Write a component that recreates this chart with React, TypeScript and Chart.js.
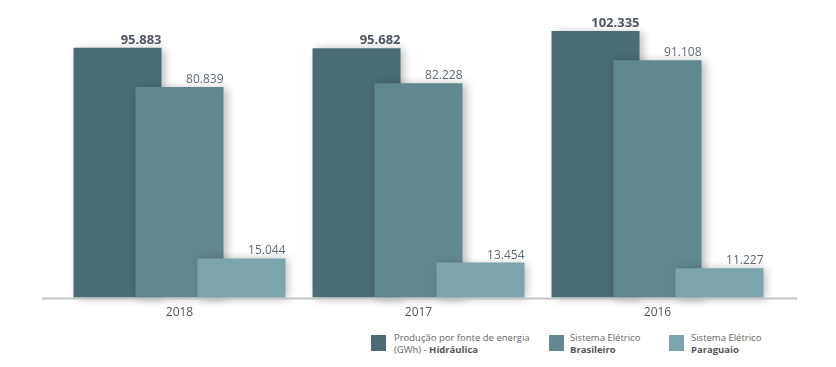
import React, { useEffect, useRef } from "react";
import { Chart, registerables } from "chart.js";

Chart.register(...registerables);

const categories = ["2018", "2017", "2016"];
const hidraulica = [95.883, 95.682, 102.335];
const brasileiro = [80.839, 82.228, 91.108];
const paraguaio = [15.044, 13.454, 11.227];
const seriesColors = ["#4b6c74", "#62888f", "#7ba5ab"];

const fmt = (v: number) => v.toFixed(3);

export default function App() {
  const ref = useRef<HTMLCanvasElement | null>(null);
  useEffect(() => {
    document.body.style.margin = "0";
    const drawPlugin = {
      id: "orderedDraw",
      beforeDatasetsDraw(chart: any) {
        const ctx = chart.ctx;
        ctx.save();
        ctx.shadowColor = "rgba(0,0,0,0.28)";
        ctx.shadowBlur = 9;
        ctx.shadowOffsetX = 3;
        ctx.shadowOffsetY = 1;
        for (let i = 0; i < chart.data.datasets.length; i++) {
          chart.getDatasetMeta(i).controller.draw();
        }
        ctx.restore();
        return false;
      },
      afterDraw(chart: any) {
        const ctx = chart.ctx;
        const y = chart.scales.y.getPixelForValue(0);
        ctx.save();
        ctx.strokeStyle = "#c4c4c4";
        ctx.lineWidth = 2;
        ctx.beginPath();
        ctx.moveTo(42, y + 1);
        ctx.lineTo(797, y + 1);
        ctx.stroke();
        chart.data.datasets.forEach((ds: any, di: number) => {
          const meta = chart.getDatasetMeta(di);
          meta.data.forEach((bar: any, i: number) => {
            const right = bar.x + bar.width / 2;
            ctx.font = di === 0 ? "bold 13px 'Open Sans', sans-serif" : "12px 'Open Sans', sans-serif";
            ctx.fillStyle = di === 0 ? "#4d5560" : "#5f6a75";
            ctx.textAlign = "right";
            ctx.textBaseline = "alphabetic";
            ctx.fillText(fmt(ds.data[i]), right, bar.y - 4);
          });
        });
        ctx.restore();
      },
    };
    const mk = (label: string, data: number[], color: string) => ({
      label,
      data,
      backgroundColor: color,
      borderWidth: 0,
      categoryPercentage: 0.778,
      barPercentage: 1.42,
    });
    const chart = new Chart(ref.current!, {
      type: "bar",
      data: {
        labels: categories,
        datasets: [
          mk("Hidráulica", hidraulica, seriesColors[0]),
          mk("Sistema Elétrico Brasileiro", brasileiro, seriesColors[1]),
          mk("Sistema Elétrico Paraguaio", paraguaio, seriesColors[2]),
        ],
      },
      options: {
        animation: false,
        responsive: false,
        layout: { padding: { left: 60, right: 59, top: 11, bottom: 0 } },
        plugins: { legend: { display: false }, tooltip: { enabled: false } },
        scales: {
          x: {
            grid: { display: false },
            border: { display: false },
            ticks: { color: "#555", font: { size: 12, family: "'Open Sans', sans-serif" }, padding: 0 },
          },
          y: { display: false, min: 0, max: 110 },
        },
      },
      plugins: [drawPlugin],
    });
    return () => chart.destroy();
  }, []);

  const legendItems = [
    { x: 371, tx: 394, color: seriesColors[0], l1: "Produção por fonte de energia", pre: "(GWh) - ", bold: "Hidráulica" },
    { x: 549, tx: 570, color: seriesColors[1], l1: "Sistema Elétrico", pre: "", bold: "Brasileiro" },
    { x: 669, tx: 691, color: seriesColors[2], l1: "Sistema Elétrico", pre: "", bold: "Paraguaio" },
  ];

  return (
    <div style={{ position: "relative", width: 836, height: 367, background: "#fff", fontFamily: "'Open Sans', sans-serif" }}>
      <canvas ref={ref} width={836} height={320} style={{ position: "absolute", left: 0, top: 0 }} />
      {legendItems.map((it, i) => (
        <React.Fragment key={i}>
          <div style={{ position: "absolute", left: it.x, top: 335, width: 15, height: 16, background: it.color }} />
          <div style={{ position: "absolute", left: it.tx, top: 332, fontSize: 9.5, lineHeight: "12px", color: "#666", whiteSpace: "nowrap" }}>
            <div>{it.l1}</div>
            <div>
              {it.pre}
              <b style={{ color: "#555" }}>{it.bold}</b>
            </div>
          </div>
        </React.Fragment>
      ))}
    </div>
  );
}
